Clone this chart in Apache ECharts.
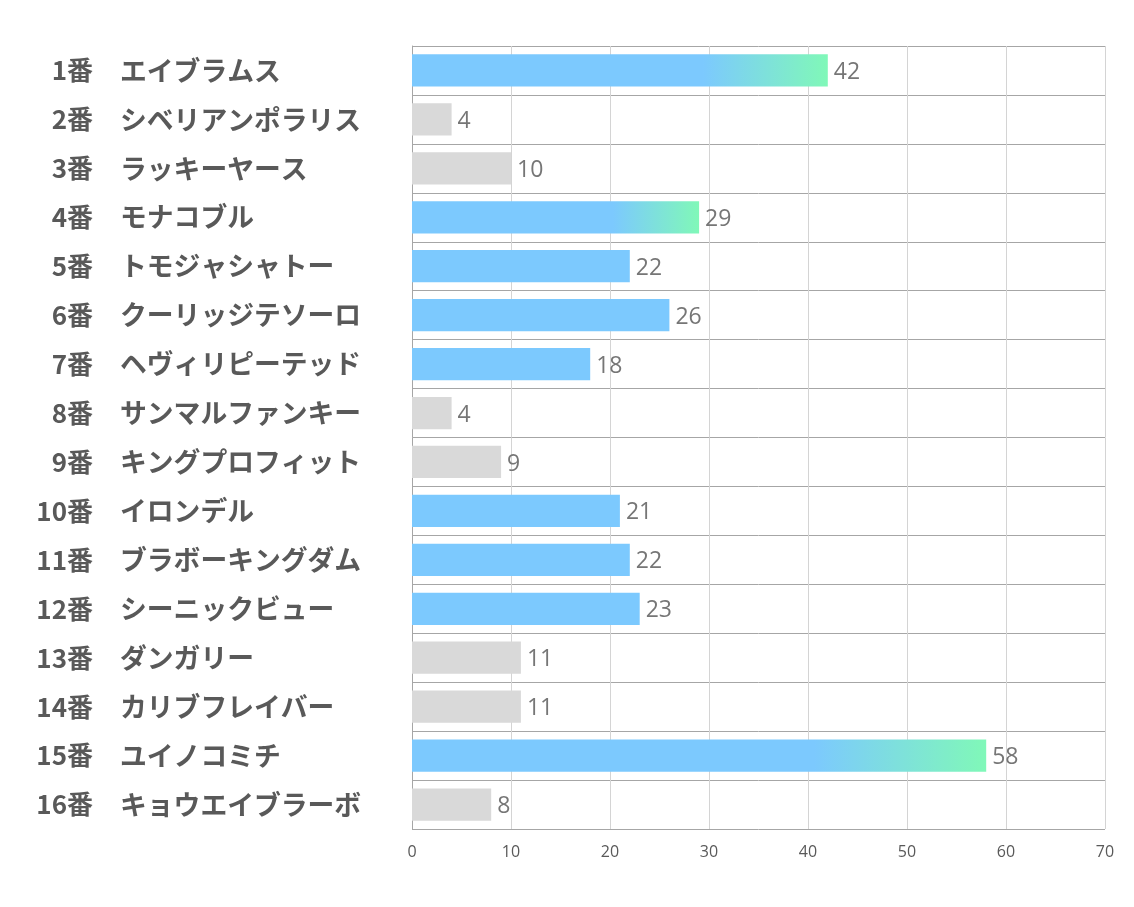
<!DOCTYPE html>
<html><head><meta charset="utf-8">
<script src="https://cdn.jsdelivr.net/npm/echarts@6/dist/echarts.min.js"></script>
<style>html,body{margin:0;padding:0;background:#fff}#c{width:1134px;height:907px}</style>
</head><body><div id="c"></div>
<script>
const numbers = ['1番','2番','3番','4番','5番','6番','7番','8番','9番','10番','11番','12番','13番','14番','15番','16番'];
const names = ['エイブラムス','シベリアンポラリス','ラッキーヤース','モナコブル','トモジャシャトー','クーリッジテソーロ','ヘヴィリピーテッド','サンマルファンキー','キングプロフィット','イロンデル','ブラボーキングダム','シーニックビュー','ダンガリー','カリブフレイバー','ユイノコミチ','キョウエイブラーボ'];
const values = [42,4,10,29,22,26,18,4,9,21,22,23,11,11,58,8];
const xTicks = [0,10,20,30,40,50,60,70];

const BLUE = '#7cc9fe', GREEN = '#80f8b8', GREY = '#d9d9d9';
const sorted = values.slice().sort((a,b)=>b-a);
const top3 = sorted[2];
const data = values.map(v=>{
  let color;
  if (v >= top3) color = new echarts.graphic.LinearGradient(0,0,1,0,[{offset:0,color:BLUE},{offset:0.7,color:BLUE},{offset:1,color:GREEN}]);
  else if (v >= 15) color = BLUE;
  else color = GREY;
  return {value:v, itemStyle:{color}};
});
const numFont = {fontSize:26,fontWeight:'bold',color:'#595959',fontFamily:'"Noto Sans CJK JP",sans-serif'};
const nameFont = {fontSize:26.8,fontWeight:'bold',color:'#595959',fontFamily:'"Noto Sans CJK JP",sans-serif'};
const chart = echarts.init(document.getElementById('c'));
chart.setOption({
  animation:false,
  grid:{left:412,right:29,top:46,bottom:78,containLabel:false},
  xAxis:{type:'value',min:xTicks[0],max:xTicks[xTicks.length-1],interval:10,
    axisLine:{show:false},axisTick:{show:false},
    splitLine:{show:true,lineStyle:{color:'#d4d4d4',width:1}},
    axisLabel:{color:'#595959',fontSize:16,margin:15,fontFamily:'"Open Sans","Noto Sans",sans-serif'}},
  yAxis:[
    {type:'category',data:numbers,inverse:true,position:'left',
      axisLine:{show:true,lineStyle:{color:'#a6a6a6'}},axisTick:{show:false},
      splitLine:{show:true,lineStyle:{color:'#a6a6a6',width:1}},
      axisLabel:Object.assign({align:'right',margin:319},numFont)},
    {type:'category',data:names,inverse:true,position:'left',offset:0,
      axisLine:{show:false},axisTick:{show:false},splitLine:{show:false},
      axisLabel:Object.assign({align:'left',margin:292},nameFont)}
  ],
  series:[{type:'bar',yAxisIndex:0,data:data,barCategoryGap:'34%',
    label:{show:true,position:'right',distance:6,offset:[0,2],color:'#767676',fontSize:23,fontFamily:'"Open Sans","Noto Sans",sans-serif'}}]
});
</script></body></html>
